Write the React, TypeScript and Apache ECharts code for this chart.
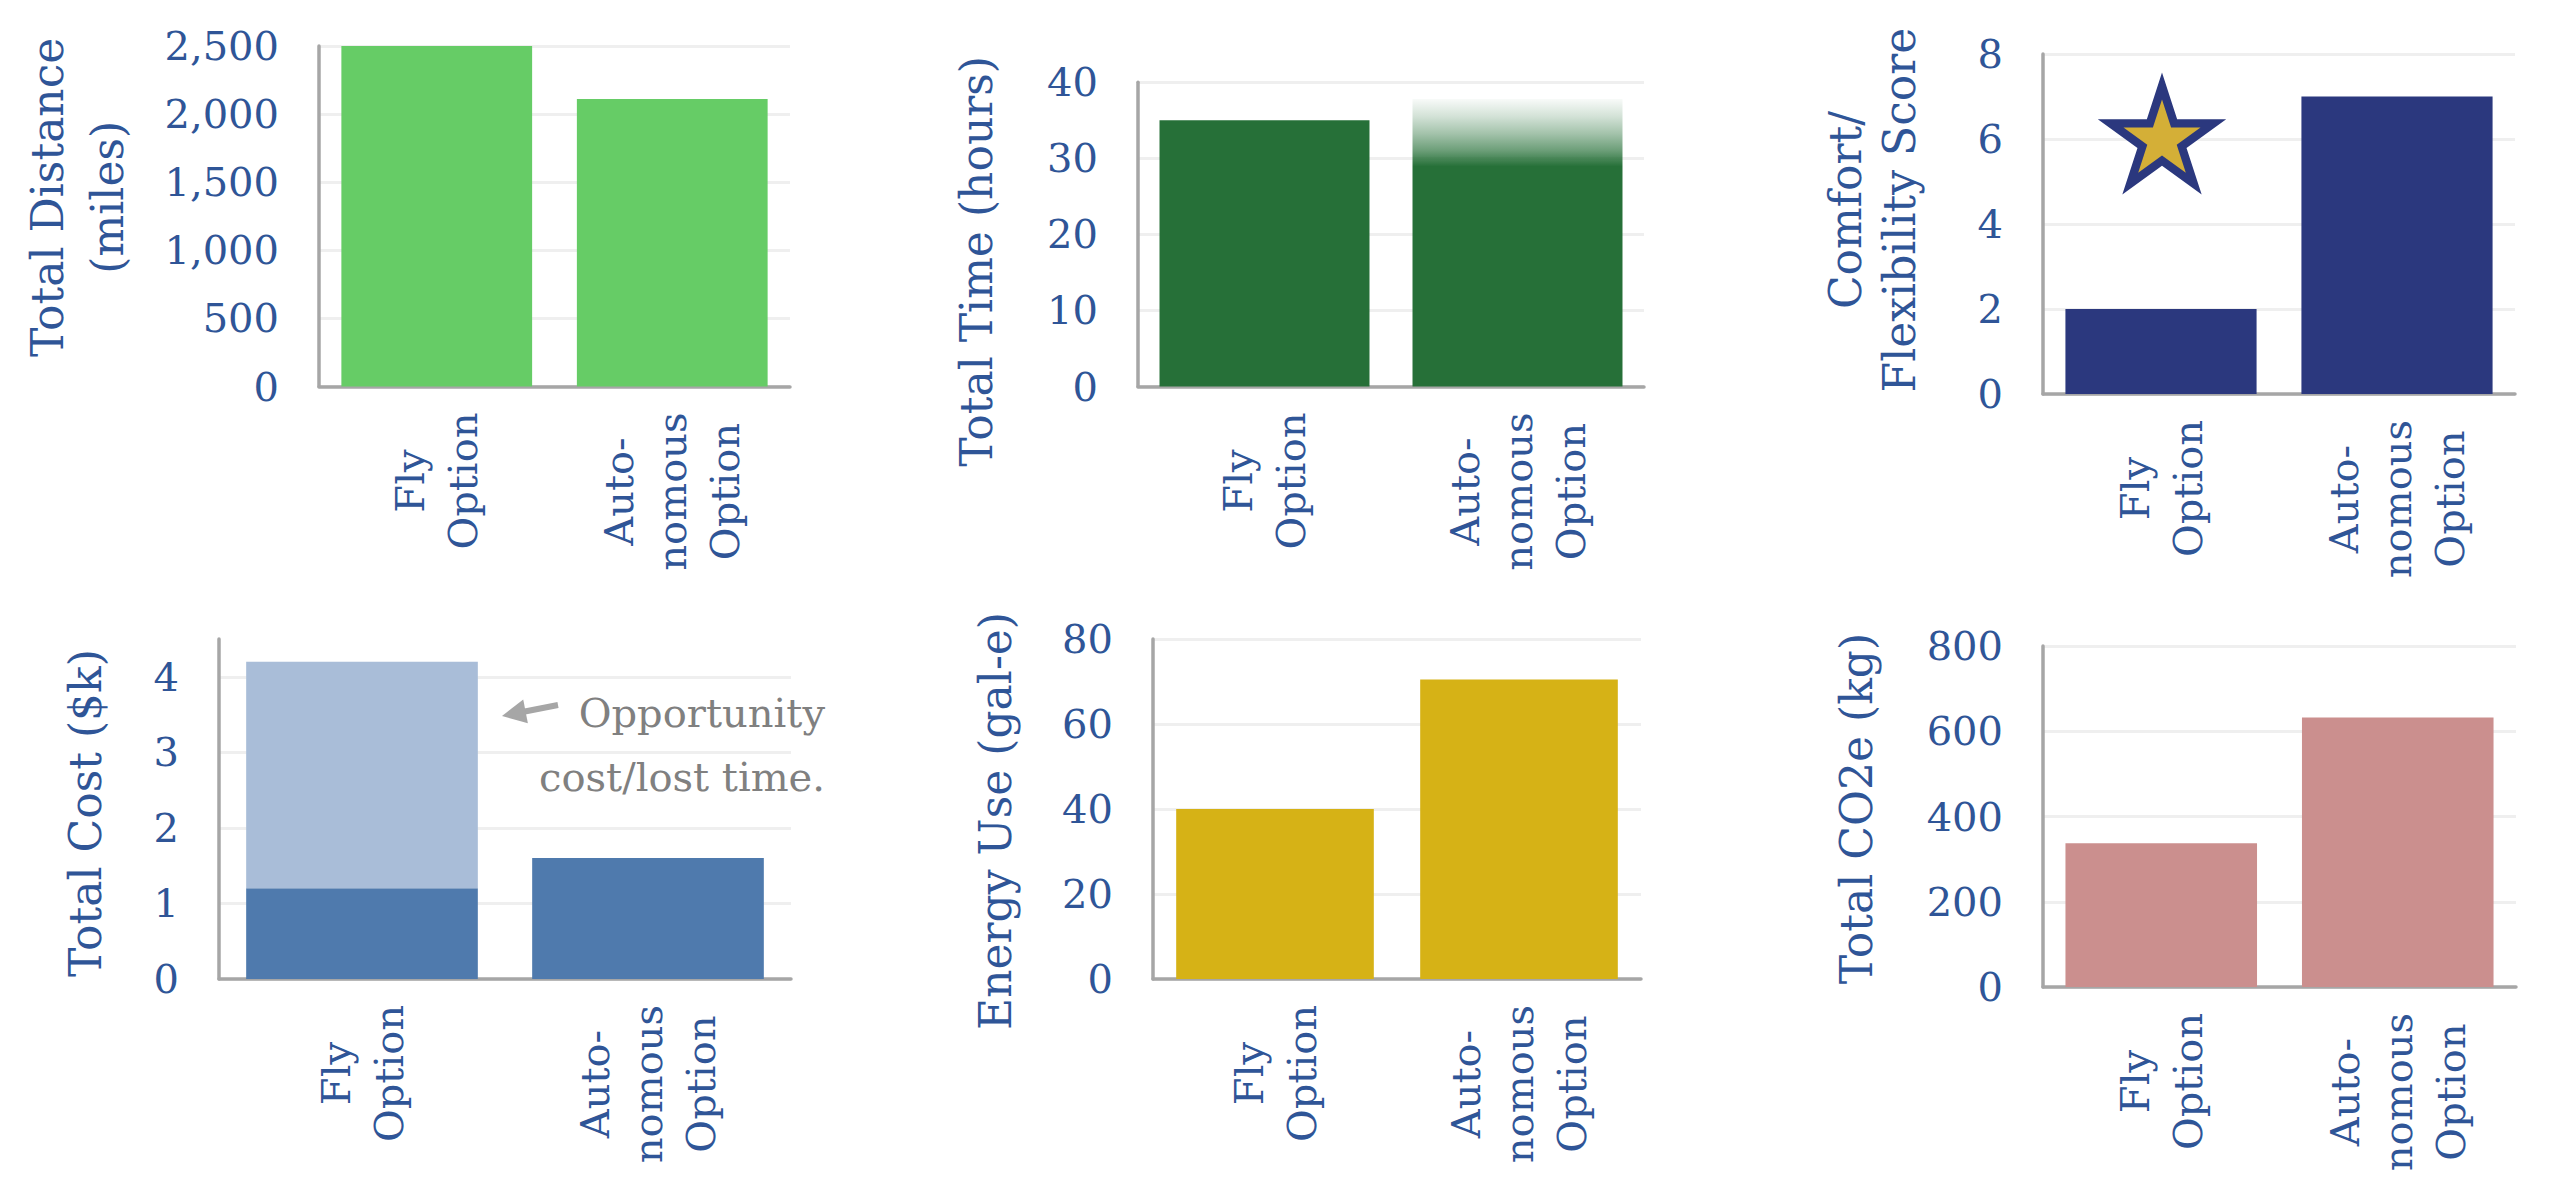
import React, { useEffect, useRef } from "react";
import * as echarts from "echarts";

// ---------- data ----------
const categories = ["Fly\nOption", "Auto-\nnomous\nOption"];
const distanceMiles = [2500, 2110];
const timeHours = [35, 37.8];
const comfortScore = [2, 7];
const costBaseK = [1.2, 1.6];
const costOpportunityK = [3.0, 0];
const energyGalE = [40, 70.5];
const co2Kg = [337, 632];

const distanceTicks = [0, 500, 1000, 1500, 2000, 2500];
const timeTicks = [0, 10, 20, 30, 40];
const comfortTicks = [0, 2, 4, 6, 8];
const costTicks = [0, 1, 2, 3, 4];
const energyTicks = [0, 20, 40, 60, 80];
const co2Ticks = [0, 200, 400, 600, 800];

const annotationLines = ["Opportunity", "cost/lost time."];

// ---------- style ----------
const FONT = '"DejaVu Serif", "Liberation Serif", serif';
const BLUE_TEXT = "#2F5597";
const AXIS_GREY = "#A6A6A6";
const GRID_GREY = "#EFEFEF";

type Panel = {
  grid: { left: number; top: number; width: number; height: number };
  title: string;
  nameGap: number;
  lineHeight: number;
  padL: number;
  padR: number;
  ticks: number[];
  axisMax?: number;
  gap: string;
};

const panels: Panel[] = [
  { grid: { left: 319, top: 46, width: 471, height: 340.5 }, title: "Total Distance\n(miles)", nameGap: 182, lineHeight: 60, padL: 38, padR: 0, ticks: distanceTicks, gap: "19%" },
  { grid: { left: 1138, top: 46, width: 506, height: 340.5 }, title: "Total Time (hours)", nameGap: 136, lineHeight: 52, padL: 0, padR: 54, ticks: timeTicks, gap: "17%" },
  { grid: { left: 2043, top: 54, width: 472, height: 340 }, title: "Comfort/\nFlexibility Score", nameGap: 117, lineHeight: 54, padL: 28, padR: 0, ticks: comfortTicks, gap: "19%" },
  { grid: { left: 219, top: 639, width: 572, height: 340 }, title: "Total Cost ($k)", nameGap: 108, lineHeight: 52, padL: 0, padR: 8, ticks: costTicks, axisMax: 4.5, gap: "19%" },
  { grid: { left: 1153, top: 639, width: 488, height: 340 }, title: "Energy Use (gal-e)", nameGap: 132, lineHeight: 52, padL: 0, padR: 24, ticks: energyTicks, gap: "19%" },
  { grid: { left: 2043, top: 646, width: 473, height: 341 }, title: "Total CO2e (kg)", nameGap: 161, lineHeight: 52, padL: 16, padR: 0, ticks: co2Ticks, gap: "19%" },
];

function starPoints(cx: number, cy: number, R: number): number[][] {
  const pts: number[][] = [];
  for (let k = 0; k < 10; k++) {
    const a = -Math.PI / 2 + (k * Math.PI) / 5;
    const r = k % 2 === 0 ? R : R * 0.382;
    pts.push([cx + r * Math.cos(a), cy + r * Math.sin(a)]);
  }
  return pts;
}

export default function App() {
  const ref = useRef<HTMLDivElement>(null);

  useEffect(() => {
    if (!ref.current) return;
    const chart = echarts.init(ref.current, undefined, { renderer: "svg" });

    const grids = panels.map((p) => ({ ...p.grid, containLabel: false }));

    const xAxes = panels.map((p, i) => ({
      type: "category",
      gridIndex: i,
      data: categories,
      axisLine: { show: true, lineStyle: { color: AXIS_GREY, width: 3.5 } },
      axisTick: { show: false },
      splitLine: { show: false },
      axisLabel: {
        rotate: 90,
        margin: 26,
        interval: 0,
        formatter: (v: string) =>
          v
            .split("\n")
            .map((l) => `{c|${l}}`)
            .join("\n"),
        rich: {
          c: {
            align: "center",
            fontFamily: FONT,
            fontSize: 40,
            lineHeight: 53,
            color: BLUE_TEXT,
          },
        },
      },
    }));

    const yAxes = panels.map((p, i) => {
      const t = p.ticks;
      const max = p.axisMax ?? t[t.length - 1];
      return {
        type: "value",
        gridIndex: i,
        min: t[0],
        max,
        interval: t[1] - t[0],
        name: p.title,
        nameLocation: "middle",
        nameRotate: 90,
        nameGap: p.nameGap,
        nameTextStyle: {
          fontFamily: FONT,
          fontSize: 44,
          lineHeight: p.lineHeight,
          color: BLUE_TEXT,
          align: "center",
          padding: [0, p.padR, 0, p.padL],
        },
        axisLine: { show: true, lineStyle: { color: AXIS_GREY, width: 3.5 } },
        axisTick: { show: false },
        splitLine: {
          show: true,
          showMaxLine: p.axisMax === undefined,
          lineStyle: { color: GRID_GREY, width: 3 },
        },
        axisLabel: {
          margin: 40,
          fontFamily: FONT,
          fontSize: 40,
          color: BLUE_TEXT,
          showMaxLabel: p.axisMax === undefined,
          formatter: (v: number) =>
            t.indexOf(v) >= 0 ? v.toLocaleString("en-US") : "",
        },
      };
    });

    const timeGradient = new echarts.graphic.LinearGradient(0, 0, 0, 1, [
      { offset: 0, color: "rgba(38,112,56,0.03)" },
      { offset: 0.06, color: "rgba(38,112,56,0.2)" },
      { offset: 0.12, color: "rgba(38,112,56,0.42)" },
      { offset: 0.18, color: "rgba(38,112,56,0.68)" },
      { offset: 0.235, color: "rgba(38,112,56,1)" },
      { offset: 1, color: "rgba(38,112,56,1)" },
    ]);

    const series: any[] = [
      {
        type: "bar",
        xAxisIndex: 0,
        yAxisIndex: 0,
        data: distanceMiles,
        barCategoryGap: panels[0].gap,
        itemStyle: { color: "#66CC66" },
      },
      {
        type: "bar",
        xAxisIndex: 1,
        yAxisIndex: 1,
        data: timeHours.map((v, i) =>
          i === 1 ? { value: v, itemStyle: { color: timeGradient } } : v
        ),
        barCategoryGap: panels[1].gap,
        itemStyle: { color: "#267038" },
      },
      {
        type: "bar",
        xAxisIndex: 2,
        yAxisIndex: 2,
        data: comfortScore,
        barCategoryGap: panels[2].gap,
        itemStyle: { color: "#2B387E" },
      },
      {
        type: "bar",
        xAxisIndex: 3,
        yAxisIndex: 3,
        stack: "cost",
        data: costBaseK,
        barCategoryGap: panels[3].gap,
        itemStyle: { color: "#4F7AAD" },
      },
      {
        type: "bar",
        xAxisIndex: 3,
        yAxisIndex: 3,
        stack: "cost",
        data: costOpportunityK,
        barCategoryGap: panels[3].gap,
        itemStyle: { color: "#A9BDD8" },
      },
      {
        type: "bar",
        xAxisIndex: 4,
        yAxisIndex: 4,
        data: energyGalE,
        barCategoryGap: panels[4].gap,
        itemStyle: { color: "#D6B216" },
      },
      {
        type: "bar",
        xAxisIndex: 5,
        yAxisIndex: 5,
        data: co2Kg,
        barCategoryGap: panels[5].gap,
        itemStyle: { color: "#CB8F8E" },
      },
    ];

    // arrow geometry
    const tail = [558, 705];
    const tip = [502, 716];
    const dx = tip[0] - tail[0];
    const dy = tip[1] - tail[1];
    const len = Math.sqrt(dx * dx + dy * dy);
    const ux = dx / len;
    const uy = dy / len;
    const headLen = 24;
    const headHalf = 12;
    const bx = tip[0] - headLen * ux;
    const by = tip[1] - headLen * uy;
    const nx = -uy;
    const ny = ux;

    const graphic: any[] = [
      {
        type: "polygon",
        shape: { points: starPoints(2162, 140, 67.5) },
        style: { fill: "#2B387E" },
        z: 100,
      },
      {
        type: "polygon",
        shape: { points: starPoints(2162, 140, 40.5) },
        style: { fill: "#D4AF37" },
        z: 101,
      },
      {
        type: "line",
        shape: { x1: tail[0], y1: tail[1], x2: bx + 2 * ux, y2: by + 2 * uy },
        style: { stroke: AXIS_GREY, lineWidth: 6 },
        z: 100,
      },
      {
        type: "polygon",
        shape: {
          points: [
            [tip[0], tip[1]],
            [bx + headHalf * nx, by + headHalf * ny],
            [bx - headHalf * nx, by - headHalf * ny],
          ],
        },
        style: { fill: AXIS_GREY },
        z: 100,
      },
      {
        type: "text",
        x: 825,
        y: 713,
        style: {
          text: annotationLines[0],
          font: `40px ${FONT}`,
          fill: "#808080",
          align: "right",
          textAlign: "right",
          verticalAlign: "middle",
          textVerticalAlign: "middle",
        },
        z: 100,
      },
      {
        type: "text",
        x: 825,
        y: 777,
        style: {
          text: annotationLines[1],
          font: `40px ${FONT}`,
          fill: "#808080",
          align: "right",
          textAlign: "right",
          verticalAlign: "middle",
          textVerticalAlign: "middle",
        },
        z: 100,
      },
    ];

    chart.setOption({
      animation: false,
      backgroundColor: "#ffffff",
      grid: grids,
      xAxis: xAxes,
      yAxis: yAxes,
      series,
      graphic,
    });

    return () => {
      chart.dispose();
    };
  }, []);

  return (
    <div
      ref={ref}
      style={{
        position: "fixed",
        left: 0,
        top: 0,
        width: 2560,
        height: 1189,
        background: "#ffffff",
      }}
    />
  );
}
